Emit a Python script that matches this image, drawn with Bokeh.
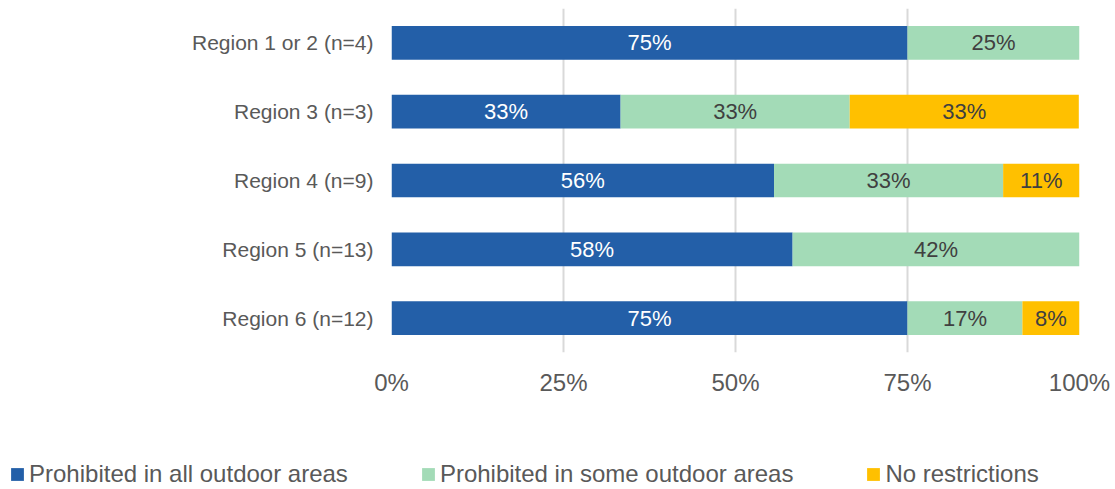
from bokeh.plotting import figure
from bokeh.layouts import column
from bokeh.models import ColumnDataSource, FactorRange, Range1d, NumeralTickFormatter, FixedTicker, Legend, LegendItem
from bokeh.core.properties import value
from bokeh.embed import file_html
from bokeh.resources import INLINE

regions = ["Region 1 or 2 (n=4)", "Region 3 (n=3)", "Region 4 (n=9)", "Region 5 (n=13)", "Region 6 (n=12)"]
all_areas = [75.0, 33.3, 55.6, 58.3, 75.0]
some_areas = [25.0, 33.3, 33.3, 41.7, 16.7]
no_restr = [0.0, 33.3, 11.1, 0.0, 8.3]
series_names = ["Prohibited in all outdoor areas", "Prohibited in some outdoor areas", "No restrictions"]
x_ticks = [0, 0.25, 0.5, 0.75, 1.0]

colors = ["#235FA8", "#A3DBB7", "#FFC000"]
label_colors = ["#FFFFFF", "#404040", "#404040"]
FONT = "Liberation Sans"
GREY = "#595959"

keys = ["a", "s", "n"]
src = ColumnDataSource(dict(
    region=regions,
    a=[v / 100 for v in all_areas],
    s=[v / 100 for v in some_areas],
    n=[v / 100 for v in no_restr],
))

p = figure(width=1115, height=440, output_backend="svg", toolbar_location=None,
           y_range=FactorRange(factors=list(reversed(regions)), range_padding=0),
           x_range=Range1d(0, 1),
           min_border_left=391, min_border_right=36, min_border_top=8, min_border_bottom=88)
p.outline_line_color = None
p.frame_align = False

rs = p.hbar_stack(keys, y="region", height=0.49, color=colors, line_color=None, source=src)

# data labels
series = [all_areas, some_areas, no_restr]
for i, ser in enumerate(series):
    xs, ys, txt = [], [], []
    for j, r in enumerate(regions):
        v = ser[j]
        if v <= 0:
            continue
        left = sum(series[k][j] for k in range(i))
        xs.append((left + v / 2) / 100)
        ys.append(r)
        txt.append(f"{round(v)}%")
    p.text(x=xs, y=ys, text=txt, text_align="center", text_baseline="middle",
           text_font=value(FONT), text_font_size="22px",
           text_color=label_colors[i])

p.ygrid.grid_line_color = None
p.xgrid.grid_line_color = "#D9D9D9"
p.xgrid.grid_line_width = 2
p.xaxis.ticker = FixedTicker(ticks=x_ticks)
p.xaxis.formatter = NumeralTickFormatter(format="0%")

for ax in (p.xaxis, p.yaxis):
    ax.axis_line_color = None
    ax.major_tick_line_color = None
    ax.minor_tick_line_color = None
    ax.major_label_text_font = FONT
    ax.major_label_text_color = GREY
p.yaxis.major_label_text_font_size = "21px"
p.xaxis.major_label_text_font_size = "24px"
p.yaxis.major_label_standoff = 12
p.xaxis.major_label_standoff = 10

# legend figure
lf = figure(width=1115, height=49, output_backend="svg", toolbar_location=None,
            x_axis_type=None, y_axis_type=None, x_range=Range1d(0, 1), y_range=Range1d(0, 1),
            min_border=0)
lf.frame_align = False
lf.outline_line_color = None
lf.grid.visible = False
lrs = [lf.rect(x=[-5], y=[-5], width=1, height=1, fill_color=c, line_color=None) for c in colors]

leg = Legend(items=[LegendItem(label=n, renderers=[lrs[i]]) for i, n in enumerate(series_names)],
             location=(9, 1), orientation="horizontal",
             padding=0, margin=0, spacing=72, border_line_color=None, background_fill_alpha=0,
             glyph_width=16, glyph_height=16, label_standoff=4,
             label_text_font=FONT, label_text_font_size="24px", label_text_color=GREY)
lf.add_layout(leg, "center")

layout = column(p, lf, spacing=0)
open("out.html", "w").write(file_html(layout, INLINE))
